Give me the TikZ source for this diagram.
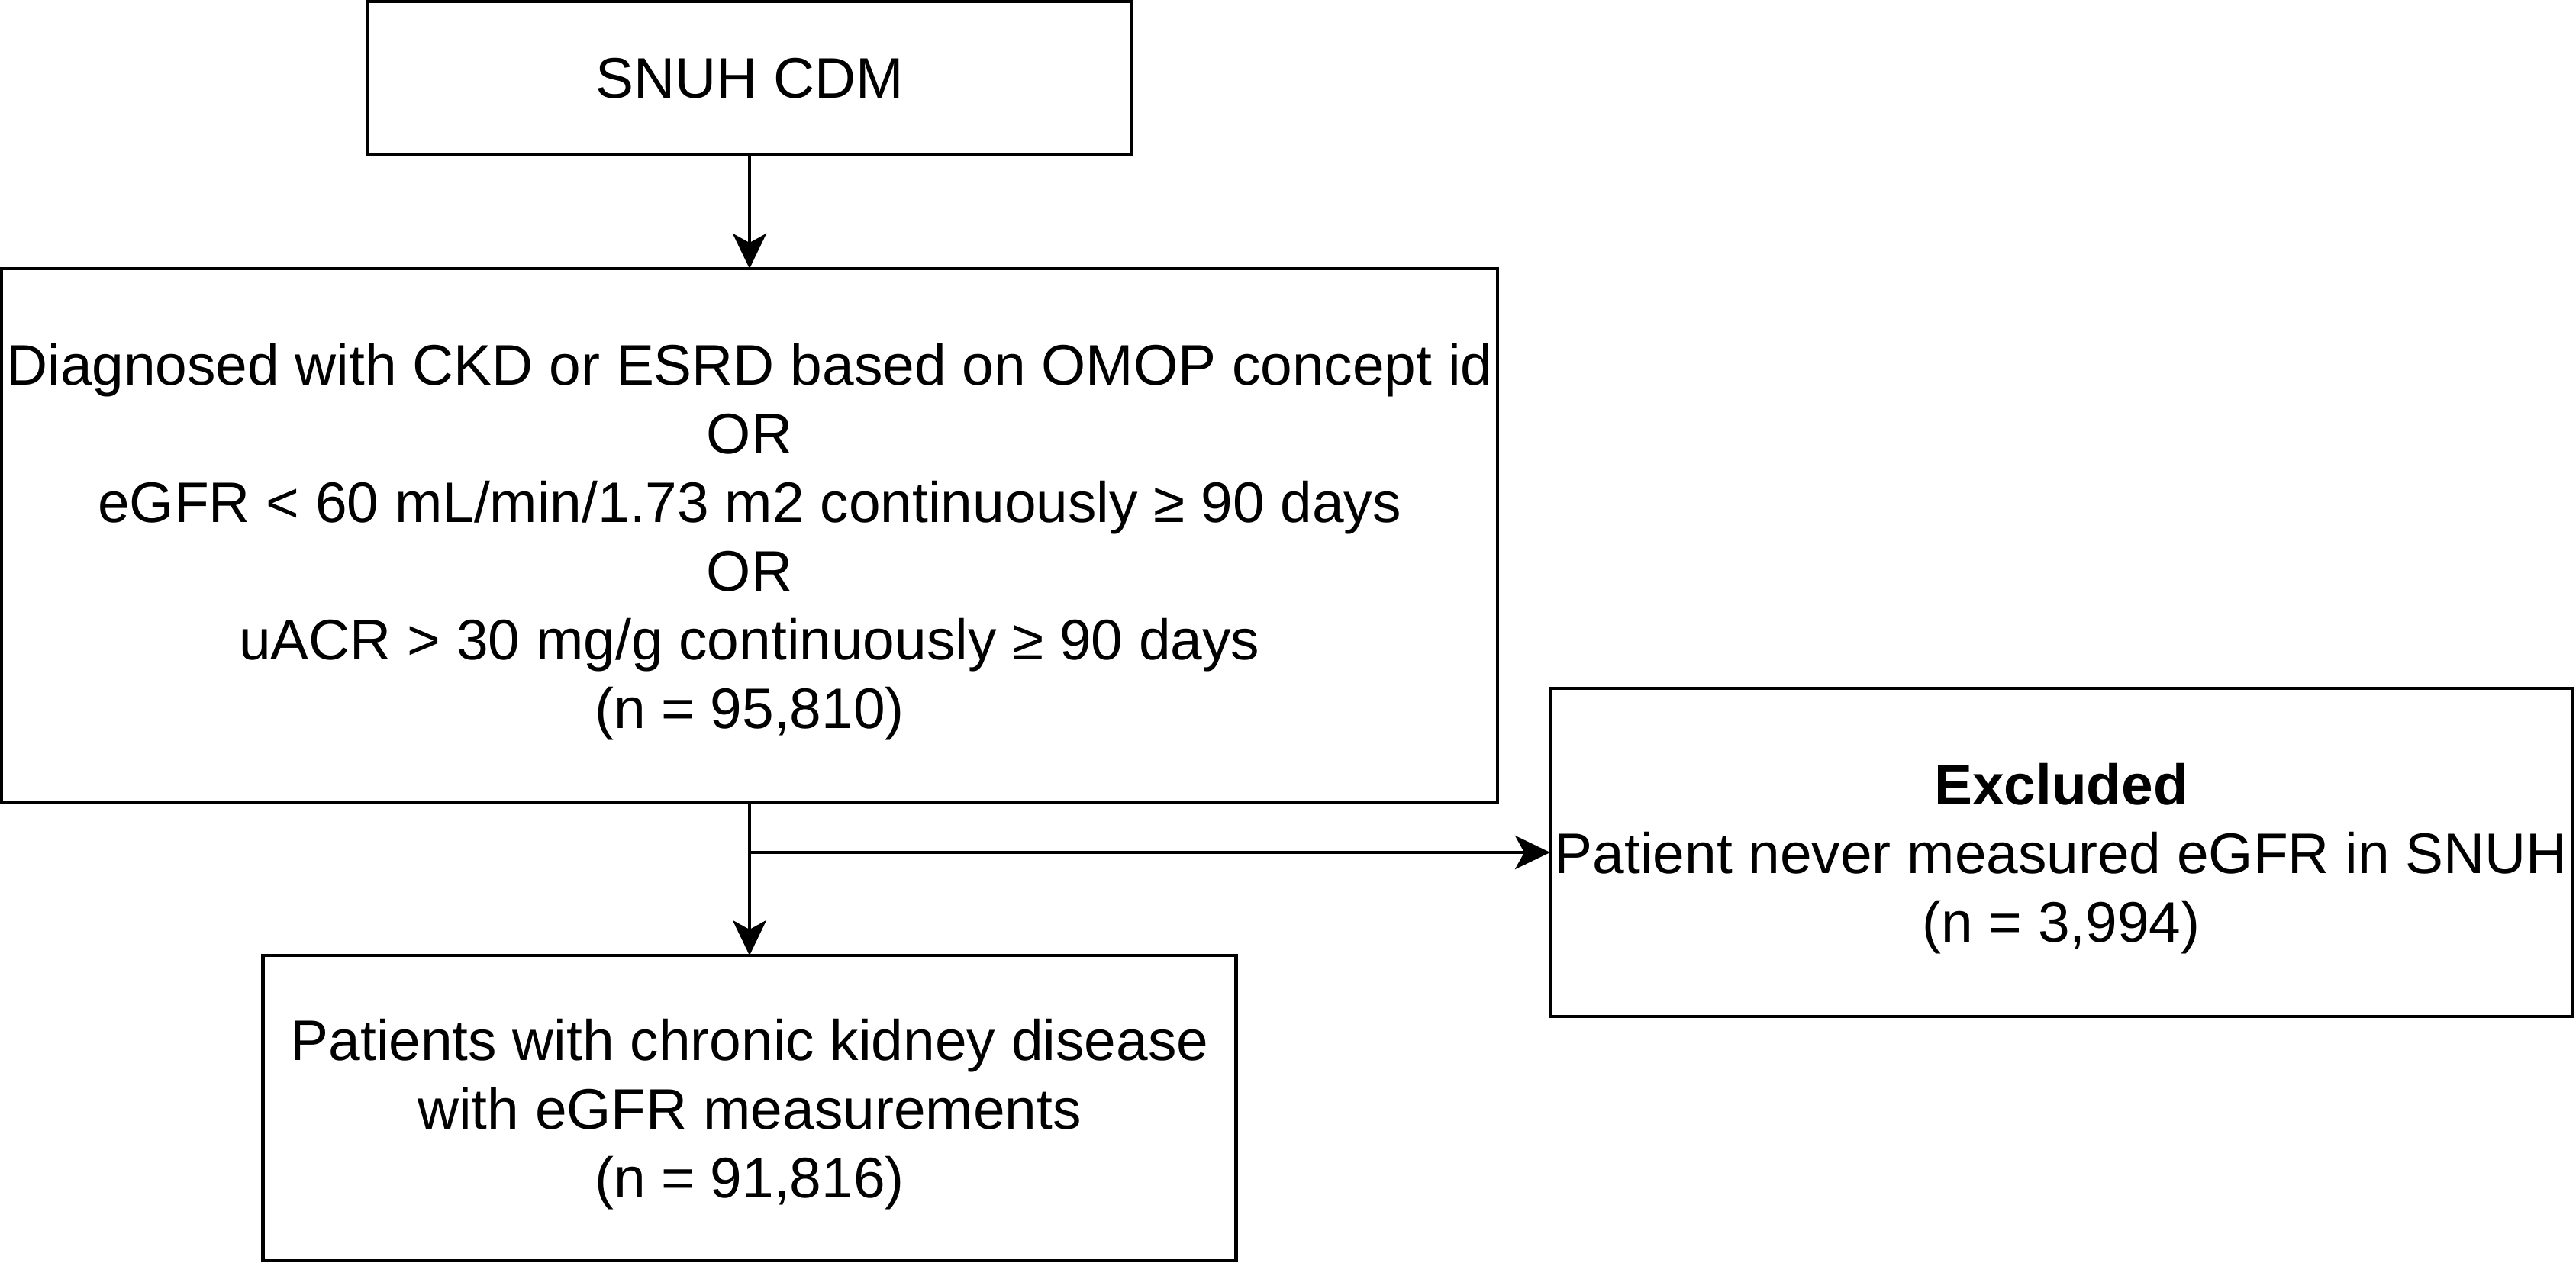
\documentclass[tikz,border=0pt]{standalone}
\usepackage{fontspec}
\setmainfont{Liberation Sans}
\usetikzlibrary{positioning,arrows.meta}

\begin{document}
\begin{tikzpicture}[
    box/.style={draw, line width=1.35pt, align=center, inner sep=0pt, outer sep=0pt,
        font=\fontsize{21.3}{25.6}\selectfont, text depth=-0.11cm},
    flow/.style={line width=1.15pt, -{Stealth[length=0.46cm, width=0.44cm, inset=0.12cm]}}]
    \useasboundingbox (0,0) rectangle (33.75,-16.55);
    \node (cdm) [box, minimum width=10cm, minimum height=2cm] at (9.82,-1.02) {SNUH CDM};
    \node (ckd) [box, minimum width=19.6cm, minimum height=7cm, below=1.5cm of cdm]
        {Diagnosed with CKD or ESRD based on OMOP concept id\\ OR\\
         eGFR < 60 mL/min/1.73 m2 continuously ≥ 90 days\\ OR\\
         uACR > 30 mg/g continuously ≥ 90 days\\ (n = 95,810)};
    \node (final) [box, minimum width=12.75cm, minimum height=4cm, below=2cm of ckd]
        {Patients with chronic kidney disease\\ with eGFR measurements\\ (n = 91,816)};
    \coordinate [below=0.65cm of ckd] (split);
    \node (excl) [box, minimum width=13.39cm, minimum height=4.3cm, right=10.49cm of split]
        {\textbf{Excluded}\\ Patient never measured eGFR in SNUH\\ (n = 3,994)};
    \draw [flow] (cdm) -- (ckd);
    \draw [flow] (ckd) -- (final);
    \draw [flow] (split) -- (excl);
\end{tikzpicture}
\end{document}
